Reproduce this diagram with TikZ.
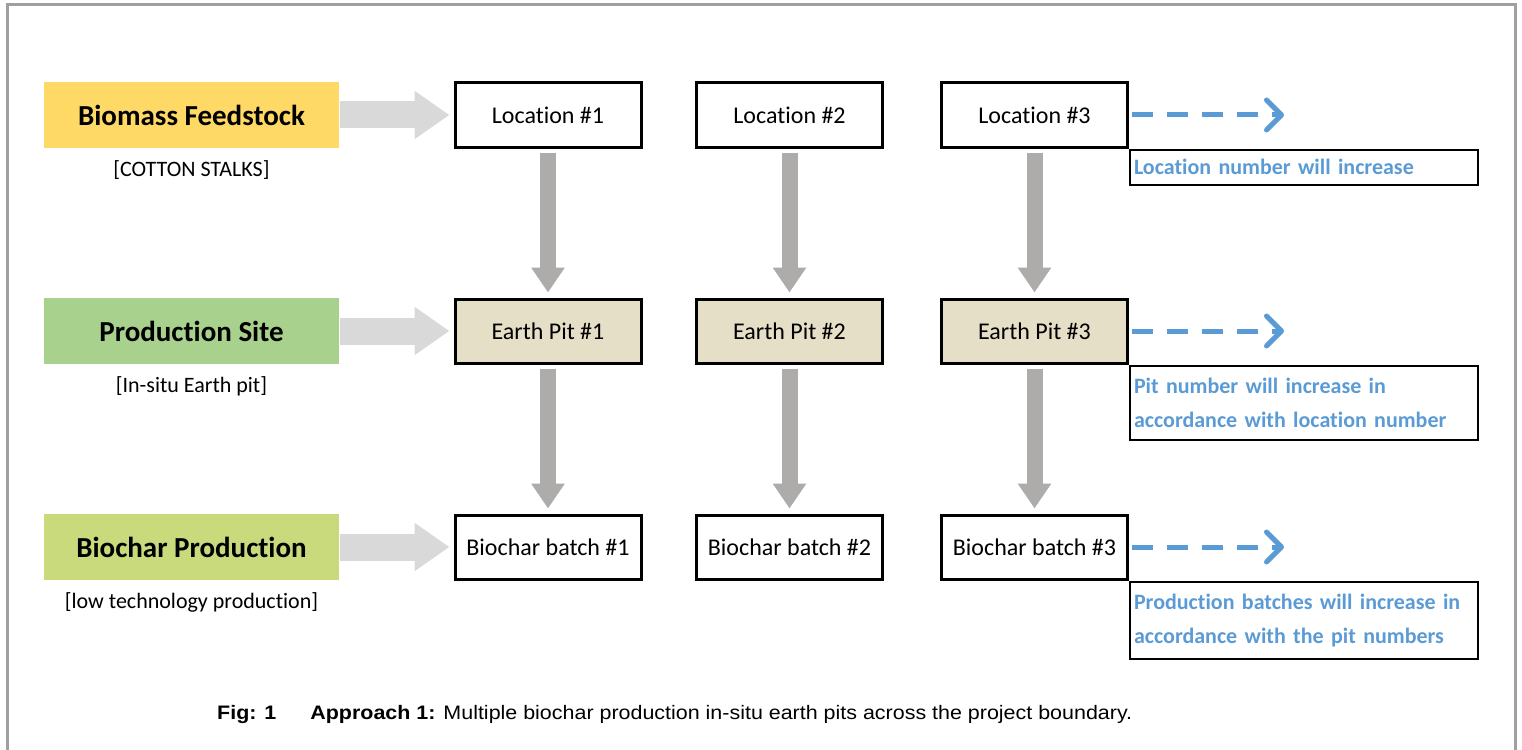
\documentclass[tikz,border=0pt]{standalone}
\usepackage{fontspec}
\setmainfont{Carlito}[Ligatures=NoCommon]
\newfontfamily\capfont{Liberation Sans}[FakeStretch=1.1]
\usetikzlibrary{arrows.meta,positioning}

\definecolor{feedyellow}{HTML}{FFD966}
\definecolor{sitegreen}{HTML}{A9D18E}
\definecolor{prodlime}{HTML}{C8DA7B}
\definecolor{pittan}{HTML}{E6DFC7}
\definecolor{lightarrow}{HTML}{D9D9D9}
\definecolor{darkarrow}{HTML}{AEABAB}
\definecolor{noteblue}{HTML}{5B9BD5}
\definecolor{framegray}{HTML}{A0A0A0}

\begin{document}
\begin{tikzpicture}[
        x=1pt, y=-1pt,
        stage/.style={rectangle, minimum width=295pt, minimum height=66pt,
        inner sep=0pt, font=\fontsize{29}{34}\selectfont\bfseries},
        sublabel/.style={inner sep=0pt, font=\fontsize{22}{26}\selectfont},
        cell/.style={rectangle, draw, line width=3pt, minimum width=186pt,
        minimum height=64pt, inner sep=0pt, font=\fontsize{24}{28}\selectfont},
        note/.style={rectangle, draw, line width=2pt, text width=340pt,
        inner xsep=4pt, inner ysep=12pt, align=left, text=noteblue,
        font=\fontsize{22}{34}\selectfont\bfseries},
        feedarrow/.style={line width=27pt, draw=lightarrow,
        -{Triangle[length=35pt,width=46pt]}, shorten <=1pt, shorten >=4pt},
        downarrow/.style={line width=16pt, draw=darkarrow,
        -{Triangle[length=25pt,width=32pt]}, shorten <=4pt, shorten >=5pt},
        morearrow/.style={line width=5pt, draw=noteblue, dash pattern=on 21pt off 14pt,
        -{Straight Barb[length=15pt,width=30pt,round]}, shorten <=3pt}
    ]
    \useasboundingbox (0,0) rectangle (1522,749);

% Frame
        \draw[framegray, line width=3pt] (7,752) -- (7,5) -- (1515,5) -- (1515,752);

% Stages on the left
        \node[stage, fill=feedyellow] (feed) at (191.5,115) {Biomass Feedstock};
        \node[stage, fill=sitegreen] (site) at (191.5,331) {Production Site};
        \node[stage, fill=prodlime] (prod) at (191.5,547) {Biochar Production};

        \node[sublabel, below=12pt of feed] (feedsub) {[COTTON STALKS]};
        \node[sublabel, below=12pt of site] (sitesub) {[In-situ Earth pit]};
        \node[sublabel, below=12pt of prod] (prodsub) {[low technology production]};

% Locations
        \node[cell] (loc1) at (548,115) {Location \#1};
        \node[cell] (loc2) at (789.5,115) {Location \#2};
        \node[cell] (loc3) at (1034.5,115) {Location \#3};

% Earth pits
        \node[cell, fill=pittan] (pit1) at (548,331) {Earth Pit \#1};
        \node[cell, fill=pittan] (pit2) at (789.5,331) {Earth Pit \#2};
        \node[cell, fill=pittan] (pit3) at (1034.5,331) {Earth Pit \#3};

% Biochar batches
        \node[cell] (batch1) at (548,547) {Biochar batch \#1};
        \node[cell] (batch2) at (789.5,547) {Biochar batch \#2};
        \node[cell] (batch3) at (1034.5,547) {Biochar batch \#3};

% Arrows
        \draw[feedarrow] (feed) -- (loc1);
        \draw[feedarrow] (site) -- (pit1);
        \draw[feedarrow] (prod) -- (batch1);

        \draw[downarrow] (loc1) -- (pit1);
        \draw[downarrow] (loc2) -- (pit2);
        \draw[downarrow] (loc3) -- (pit3);
        \draw[downarrow] (pit1) -- (batch1);
        \draw[downarrow] (pit2) -- (batch2);
        \draw[downarrow] (pit3) -- (batch3);

% More to come
        \coordinate[right=155pt of loc3] (moreloc);
        \coordinate[right=155pt of pit3] (morepit);
        \coordinate[right=155pt of batch3] (morebatch);
        \draw[morearrow] (loc3) -- (moreloc);
        \draw[morearrow] (pit3) -- (morepit);
        \draw[morearrow] (batch3) -- (morebatch);

        \node[note, inner ysep=9.5pt, below right=0.5pt and 0pt of loc3.south east] (note1)
        {Location number will increase};
        \node[note, below right=0.5pt and 0pt of pit3.south east] (note2)
        {Pit number will increase in\\ accordance with location number};
        \node[note, below right=0.5pt and 0pt of batch3.south east] (note3)
        {Production batches will increase in\\ accordance with the pit numbers};

% Caption
        \node[anchor=west, inner sep=0pt, font=\capfont\fontsize{19.5}{23}\selectfont]
        (caption) at (217,714)
        {\textbf{Fig: 1}\hspace{34pt}\textbf{Approach 1:} Multiple biochar production
        in-situ earth pits across the project boundary.};

    \end{tikzpicture}
\end{document}
